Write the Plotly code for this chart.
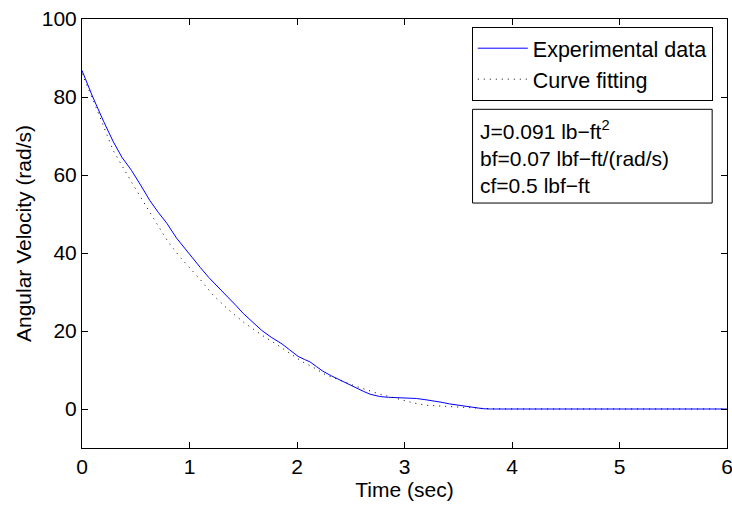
import plotly.graph_objects as go

# Experimental data (time in sec, angular velocity in rad/s)
exp_t = [0, 0.1, 0.2, 0.29, 0.37, 0.46, 0.55, 0.63, 0.71, 0.79, 0.88, 0.96, 1.03, 1.10,
         1.18, 1.27, 1.36, 1.43, 1.50, 1.58, 1.67, 1.76, 1.86, 1.93, 2.01, 2.07, 2.12,
         2.18, 2.24, 2.32, 2.40, 2.48, 2.55, 2.62, 2.68, 2.73, 2.77, 2.85, 2.93, 3.02,
         3.11, 3.19, 3.27, 3.35, 3.42, 3.50, 3.58, 3.66, 3.73, 3.80, 4.0, 4.5, 5.0, 5.5, 6.0]
exp_v = [86.8, 80.0, 73.8, 68.6, 64.6, 61.2, 57.2, 53.5, 50.4, 47.6, 43.8, 41.0, 38.6, 36.3,
         33.7, 31.2, 28.8, 26.6, 24.5, 22.4, 20.2, 18.4, 16.7, 15.2, 13.5, 12.7, 12.1,
         10.9, 9.7, 8.5, 7.4, 6.3, 5.3, 4.5, 3.8, 3.4, 3.2, 3.0, 2.9, 2.8,
         2.7, 2.4, 2.1, 1.7, 1.3, 0.95, 0.6, 0.3, 0.08, 0.0, 0.0, 0.0, 0.0, 0.0, 0.0]

# Curve fitting
fit_t = [0, 0.13, 0.29, 0.46, 0.63, 0.80, 0.91, 0.96, 1.10, 1.22, 1.36, 1.51, 1.67, 1.82,
         2.0, 2.05, 2.17, 2.27, 2.40, 2.52, 2.65, 2.77, 2.90, 3.02, 3.09, 3.21, 3.35, 3.47,
         3.67, 3.8, 4.0, 6.0]
fit_v = [86.0, 77.4, 66.3, 58.2, 50.5, 42.9, 39.0, 37.5, 33.2, 29.2, 25.5, 22.1, 19.0, 16.4,
         13.0, 12.1, 10.4, 8.7, 7.4, 6.1, 4.9, 3.8, 2.9, 2.0, 1.5, 0.95, 0.77, 0.6,
         0.33, 0.05, 0.0, 0.0]

x_ticks = [0, 1, 2, 3, 4, 5, 6]
y_ticks = [0, 20, 40, 60, 80, 100]

FONT = "Liberation Sans, Arial, Helvetica, sans-serif"
FS = 21

fig = go.Figure()
fig.add_trace(go.Scatter(x=exp_t, y=exp_v, mode="lines", name="Experimental data",
                         line=dict(color="#0000ff", width=1)))
fig.add_trace(go.Scatter(x=fit_t, y=fit_v, mode="lines", name="Curve fitting",
                         line=dict(color="#000000", width=1, dash="1px,5px")))

axis_common = dict(showline=True, linecolor="black", linewidth=1, mirror="ticks",
                   ticks="inside", ticklen=6, tickcolor="black", showgrid=False,
                   zeroline=False, ticklabeloverflow="allow", automargin=False,
                   tickfont=dict(family=FONT, size=FS, color="black"))

fig.update_xaxes(range=[0, 6], tickvals=x_ticks,
                 title=dict(text="Time (sec)", font=dict(family=FONT, size=FS, color="black"), standoff=0),
                 **axis_common)
fig.update_yaxes(range=[-10, 100], tickvals=y_ticks,
                 title=dict(text="Angular Velocity (rad/s)", font=dict(family=FONT, size=FS, color="black"), standoff=4),
                 **axis_common)

fig.update_layout(
    width=732, height=506,
    margin=dict(l=82, r=5, t=19, b=58, autoexpand=False),
    plot_bgcolor="white", paper_bgcolor="white",
    font=dict(family=FONT, size=FS, color="black"),
    legend=dict(x=0.978, y=0.982, xanchor="right", yanchor="top",
                bordercolor="black", borderwidth=1, bgcolor="white",
                font=dict(family=FONT, size=21.5, color="black"),
                tracegroupgap=0, itemwidth=50),
    showlegend=True,
)

# parameter box
fig.add_shape(type="rect", xref="paper", yref="paper",
              x0=0.6055, x1=0.977, y0=0.571, y1=0.7895,
              line=dict(color="black", width=1), fillcolor="white", layer="above")
fig.add_annotation(xref="paper", yref="paper", x=0.614, y=0.678,
                   xanchor="left", yanchor="middle", showarrow=False, align="left",
                   text="J=0.091 lb\u2212ft<sup>2</sup><br>bf=0.07 lbf\u2212ft/(rad/s)<br>cf=0.5 lbf\u2212ft",
                   font=dict(family=FONT, size=FS, color="black"))

fig.write_html("out.html")
